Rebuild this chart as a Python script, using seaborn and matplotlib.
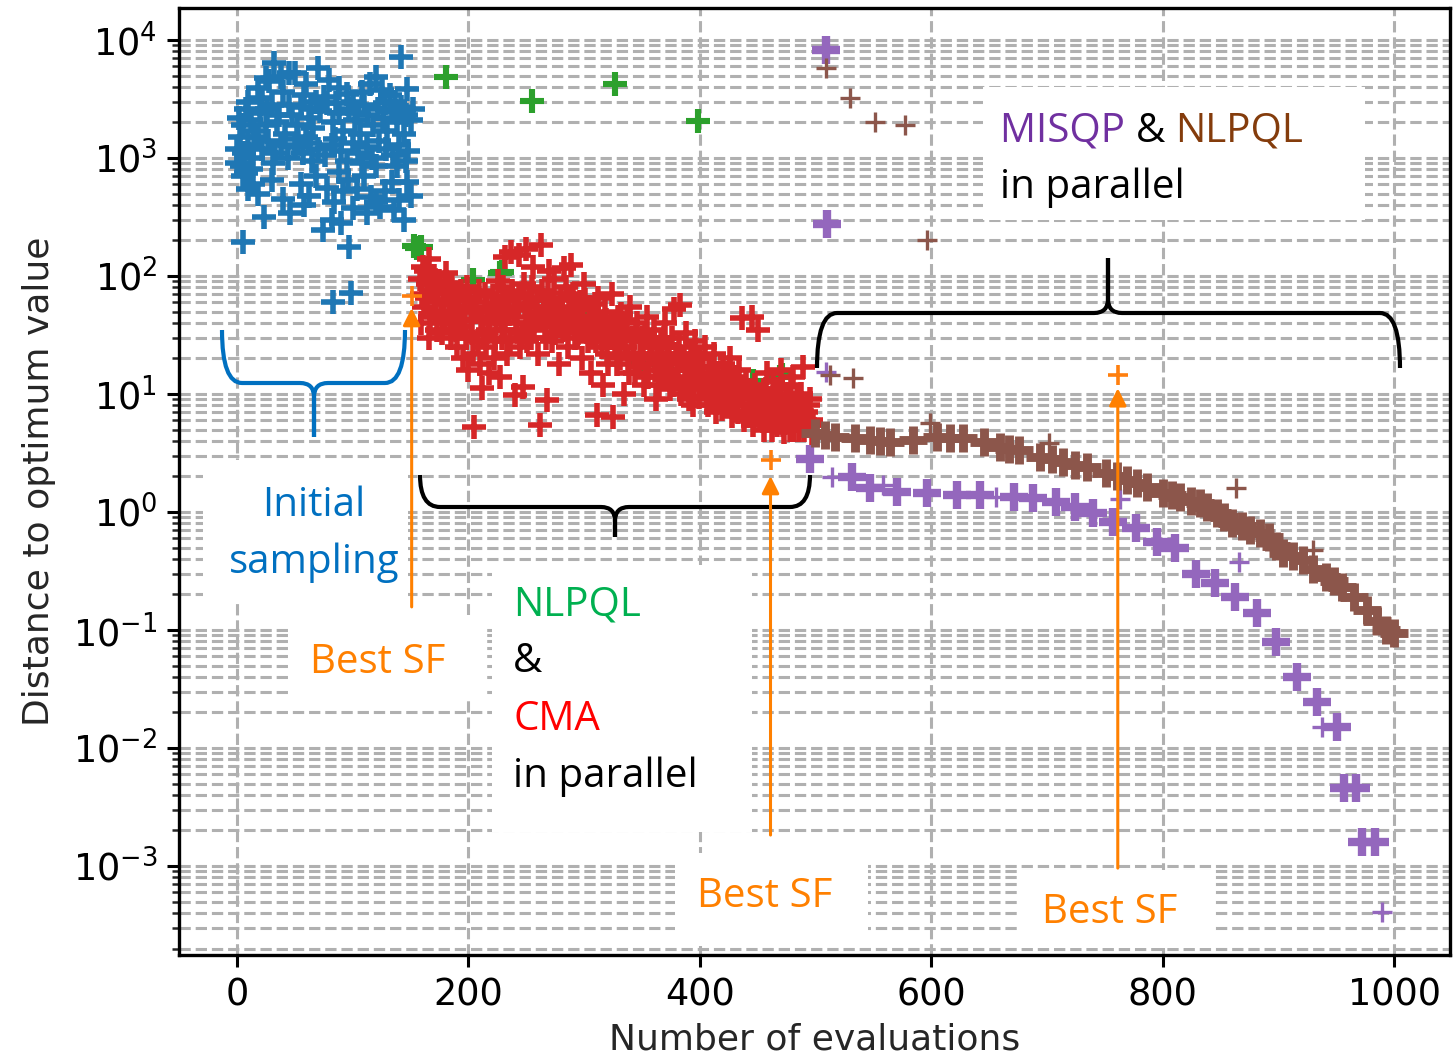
import numpy as np
import pandas as pd
import matplotlib
matplotlib.use("Agg")
import matplotlib.pyplot as plt
import matplotlib.transforms as mtransforms
from matplotlib.patches import Rectangle, PathPatch
from matplotlib.path import Path
from matplotlib.ticker import LogLocator, NullFormatter
import seaborn as sns

sns.set_style("ticks")
plt.rcParams['font.family'] = ['DejaVu Sans']

# ---------------- data (evaluation number, distance to optimum) ----------------
initial_sampling = [
    (32,6400),(45,5200),(50,5300),(70,5800),(25,4800),(28,4500),(38,4900),(18,3900),(60,4200),(80,4600),
    (88,3900),(95,3500),(108,3600),(115,4200),(125,3800),(132,3400),(142,7200),(147,3850),(120,4900),(58,3400),
    (40,3600),(10,3000),(75,3300),(100,3000),(137,3000),(22,3200),(2,2200),(5,1900),(8,2600),(12,2100),
    (15,1700),(20,2400),(25,1900),(30,2800),(35,2000),(42,1600),(48,2300),(52,1900),(55,2700),(62,2200),
    (66,1800),(72,2500),(78,2900),(83,2000),(88,2400),(92,1700),(97,2600),(102,2100),(106,1600),(110,2800),
    (113,2300),(118,1900),(122,2600),(126,2200),(130,1700),(134,2500),(138,2000),(142,2700),(146,2300),(150,2100),
    (152,2600),(3,1500),(18,1500),(45,2800),(68,3000),(86,2900),(128,2900),(144,1600),(60,1500),(0,1200),
    (6,1100),(10,1300),(14,1000),(22,1200),(27,1400),(33,1100),(38,1300),(44,1000),(50,1250),(57,1100),
    (63,1350),(70,1200),(76,1050),(82,1300),(90,1150),(95,950),(100,1350),(105,1100),(112,1250),(117,1000),
    (123,1400),(129,1200),(135,1050),(140,1300),(148,1150),(0,900),(4,850),(12,800),(31,900),(65,950),
    (108,900),(120,850),(138,850),(146,950),(53,1450),(85,1450),(5,700),(14,600),(18,500),(23,316),
    (30,650),(46,340),(55,600),(62,480),(68,700),(74,245),(78,560),(84,420),(88,760),(92,520),
    (96,650),(100,380),(104,550),(110,700),(116,470),(124,383),(128,520),(134,620),(140,440),(144,300),
    (150,480),(8,750),(40,450),(58,400),(82,300),(90,280),(112,340),(120,420),(136,360),(147,620),
    (10,550),(5,194),(97,176),(83,60),(99,72),(36,2300),(64,2600),(104,2400),(140,2450),(26,2600),
]

nlpql_first = [
    (153,178),(156,172),(159,176),(181,4860),(204,92),(227,106),(229,108),(255,3050),
    (296,41),(300,43),(327,4240),(351,18),(374,16),(398,2050),(446,13),(469,14),(471,14.5),
]

cma = [
    (158,95),(160,70),(162,55),(163,110),(165,85),(167,45),(168,75),(170,100),(172,60),(173,35),
    (175,90),(176,50),(178,72),(180,40),(181,105),(183,62),(185,30),(186,82),(188,48),(190,25),
    (191,68),(193,38),(195,20),(196,55),(198,30),(199,80),(200,16),(202,42),(204,22),(205,5.3),
    (206,60),(208,28),(210,18),(211,45),(212,11.2),(214,70),(215,25),(217,35),(218,15),(220,52),
    (222,20),(224,40),(226,90),(227,14),(229,30),(231,62),(233,22),(235,48),(237,160),(238,75),
    (240,9.8),(241,35),(243,55),(245,25),(247,11.4),(248,85),(250,40),(252,65),(254,30),(256,120),
    (258,50),(260,22),(262,5.5),(263,183),(264,75),(266,38),(268,8.9),(270,55),(272,28),(274,95),
    (276,45),(278,18),(280,65),(282,35),(284,80),(286,25),(288,50),(289,124),(290,70),(292,30),
    (294,42),(296,60),(298,20),(300,85),(302,35),(304,55),(306,15),(308,45),(310,28),(312,65),
    (314,38),(316,12),(318,50),(320,22),(322,30),(324,70),(326,40),(328,18),(330,25),(332,48),
    (334,10),(336,35),(338,20),(340,55),(342,28),(344,15),(346,40),(348,22),(350,30),(352,12),
    (354,45),(356,18),(358,25),(360,35),(362,9),(364,20),(366,28),(368,14),(370,40),(372,22),
    (374,11),(376,30),(378,53),(380,16),(382,25),(384,10),(386,19),(388,33),(390,13),(392,22),
    (394,8),(396,28),(398,15),(400,20),(402,11),(404,25),(406,9),(408,17),(410,13),(412,22),
    (414,7),(416,15),(418,10),(420,18),(422,8),(424,12),(426,20),(428,6.5),(430,14),(432,9),
    (434,16),(436,11),(438,6),(440,13),(442,8),(444,10),(445,45),(446,5.5),(448,12),(450,35),
    (451,7),(453,9),(455,5),(457,11),(459,7.5),(461,6),(463,13),(465,8),(467,5.5),(469,10),
    (471,7),(473,4.8),(475,9),(477,6),(479,12),(481,5),(483,8),(485,6.5),(487,10),(489,17),
    (490,5),(492,7),(494,5.5),(495,9),(159,40),(161,120),(164,65),(166,30),(169,90),(171,50),
    (174,75),(177,33),(179,58),(182,88),(184,45),(187,65),(189,35),(192,52),(194,75),(197,42),
    (201,65),(203,33),(207,50),(209,75),(213,32),(216,55),(219,42),(221,68),(223,28),(225,58),
    (228,45),(230,80),(232,35),(234,65),(236,28),(239,52),(242,40),(244,70),(246,33),(249,58),
    (251,28),(253,45),(255,80),(257,35),(259,62),(261,42),(265,55),(267,30),(269,72),(271,40),
    (273,60),(275,33),(277,50),(279,38),(281,48),(283,117),(285,40),(287,62),(291,45),(293,55),
    (295,33),(297,45),(299,40),(301,62),(303,28),(305,40),(307,32),(309,58),(311,6.6),(313,40),
    (315,25),(317,32),(319,42),(321,18),(323,35),(325,6.4),(327,28),(329,45),(331,20),(333,32),
    (335,25),(337,42),(339,15),(341,30),(343,22),(345,35),(347,17),(349,28),(351,20),(353,32),
    (355,14),(357,22),(359,28),(361,16),(363,25),(365,12),(367,20),(369,30),(371,15),(373,25),
    (375,18),(377,12),(379,22),(381,14),(383,57),(385,20),(387,12),(389,16),(391,9),(393,18),
    (395,12),(397,20),(399,9.5),(401,14),(403,17),(405,12),(407,8),(409,15),(411,10),(413,14),
    (415,9),(417,12),(419,7.5),(421,11),(423,15),(425,9),(427,11),(429,8),(431,12),(433,7),
    (435,10),(436,44),(437,8),(439,11),(441,6.5),(443,9),(447,7),(449,9.5),(452,6),(454,8),
    (456,10),(458,6.5),(460,9),(462,5),(464,7),(466,11),(468,6),(470,8),(472,5.5),(474,7),
    (476,10),(478,5),(480,8),(482,6),(484,9),(486,5),(488,7),(491,6),(493,8),(496,6),
    (497,4.5),(498,5.5),(244,150),(250,170),(232,145),(270,110),(166,140),(480,14),(470,16),(458,15),
]

misqp_main = [
    (495,2.8),(531,1.98),(547,1.6),(570,1.48),(596,1.45),(622,1.39),(642,1.39),(671,1.34),
    (688,1.31),(708,1.22),(724,1.1),(740,0.98),(757,0.82),(777,0.73),(795,0.56),(810,0.5),
    (829,0.30),(845,0.25),(862,0.19),(881,0.14),(898,0.079),(916,0.04),(933,0.0245),(950,0.0151),
    (956,0.0046),(967,0.0046),(972,0.0016),(983,0.0016),(509,8200),(510,275),
]
misqp_side = [(514,1.98),(558,1.7),(656,1.34),(763,1.3),(866,0.38),(937,0.0151),(509,15.3),(989,0.00041)]

nlpql_main = [
    (499,4.67),(508,4.5),(517,4.3),(534,4.2),(547,4.07),(556,4.0),(564,3.92),(584,4.07),(605,4.3),
    (616,4.2),(627,4.2),(645,3.9),(659,3.55),(667,3.4),(676,3.35),(694,2.93),(704,2.8),(714,2.65),
    (724,2.5),(734,2.4),(751,2.14),(760,2.0),(769,1.87),(778,1.75),(786,1.63),(800,1.45),(808,1.4),
    (815,1.34),(824,1.25),(832,1.19),(838,1.1),(847,0.98),(853,0.9),(860,0.81),(868,0.76),(875,0.70),
    (884,0.66),(892,0.61),(898,0.52),(904,0.45),(912,0.42),(921,0.39),(930,0.33),(941,0.28),
    (948,0.26),(955,0.23),(965,0.19),(976,0.148),(985,0.12),(993,0.1),(1000,0.095),
]
nlpql_side = [(509,5800),(530,3230),(551,2000),(577,1900),(596,200),(512,14.5),(532,13.6),
              (599,5.7),(702,3.84),(863,1.6),(930,0.48)]

best_sf = [(151,68),(461,2.76),(761,14.5)]
arrow_start = [0.157, 0.00183, 0.00096]
arrow_tip = [53.6, 2.02, 11.2]

# ---------------- figure ----------------
W, H = 1456, 1061
fig = plt.figure(figsize=(W / 200, H / 200), dpi=200)
ax = fig.add_axes([179 / W, 1 - 955 / H, (1450 - 179) / W, (955 - 8) / H])
pix = mtransforms.Affine2D().scale(1 / W, -1 / H).translate(0, 1) + fig.transFigure

def plus(pts, color, s, lw, z):
    df = pd.DataFrame(pts, columns=["x", "y"])
    sns.scatterplot(data=df, x="x", y="y", color=color, marker="+", s=s,
                    linewidth=lw, ax=ax, zorder=z, legend=False)

plus(initial_sampling, "#1f77b4", 70, 2.0, 3)
plus(nlpql_first, "#2ca02c", 70, 2.2, 3)
plus(cma, "#d62728", 70, 2.0, 3)
plus(misqp_main, "#9467bd", 95, 3.0, 3)
plus(misqp_side, "#9467bd", 55, 1.2, 3)
plus(nlpql_main, "#8c564b", 95, 3.2, 3)
plus(nlpql_side, "#8c564b", 55, 1.2, 3)
plus(best_sf, "#ff7f0e", 55, 1.3, 4)

ax.set_yscale("log")
ax.set_xlim(-50, 1048)
ax.set_ylim(10 ** -3.754, 10 ** 4.271)
ax.set_xticks([0, 200, 400, 600, 800, 1000])
ax.yaxis.set_major_locator(LogLocator(base=10, numticks=20))
ax.yaxis.set_minor_locator(LogLocator(base=10, subs=np.arange(2, 10), numticks=20))
ax.yaxis.set_minor_formatter(NullFormatter())
ax.set_axisbelow(True)
ax.grid(True, which="major", axis="both", ls="--", color="#b0b0b0", lw=1.1)
ax.grid(True, which="minor", axis="y", ls="--", color="#b0b0b0", lw=1.1)
ax.tick_params(which="major", length=4.3, width=1.1, labelsize=13.2, colors="black")
ax.tick_params(which="minor", length=2.5, width=0.9)
for sp in ax.spines.values():
    sp.set_linewidth(1.2)
    sp.set_color("black")
ax.set_xlabel("Number of evaluations", fontsize=13, labelpad=3)
ax.set_ylabel("Distance to optimum value", fontsize=13, labelpad=6)

# arrows to the best-so-far points
ORANGE = "#ff8000"
for (bx, _), y0, y1 in zip(best_sf, arrow_start, arrow_tip):
    ax.annotate("", xy=(bx, y1), xytext=(bx, y0),
                arrowprops=dict(arrowstyle="-|>", color=ORANGE, lw=1.1,
                                mutation_scale=13, shrinkA=0, shrinkB=0),
                zorder=8)

# white annotation boxes (pixel coordinates)
boxes = [(203, 460, 408, 600), (291, 615, 483, 700), (492, 565, 752, 832),
         (675, 853, 868, 946), (1021, 870, 1213, 948), (983, 87, 1365, 220)]
for x0, y0, x1, y1 in boxes:
    ax.add_patch(Rectangle((x0, y0), x1 - x0, y1 - y0, transform=pix, facecolor="white",
                           edgecolor="none", zorder=5, clip_on=False))

# curly braces
def brace(x0, x1, y_end, y_bar, xm, y_tip, color):
    r = 14
    re = 20
    sg = 1 if y_tip > y_bar else -1
    verts = [(x0, y_end), (x0, y_bar), (x0 + re, y_bar),
             (xm - r, y_bar),
             (xm, y_bar), (xm, y_bar + sg * r),
             (xm, y_tip),
             (xm, y_bar + sg * r),
             (xm, y_bar), (xm + r, y_bar),
             (x1 - re, y_bar),
             (x1, y_bar), (x1, y_end)]
    codes = [Path.MOVETO, Path.CURVE3, Path.CURVE3, Path.LINETO, Path.CURVE3, Path.CURVE3,
             Path.LINETO, Path.LINETO, Path.CURVE3, Path.CURVE3, Path.LINETO, Path.CURVE3, Path.CURVE3]
    ax.add_patch(PathPatch(Path(verts, codes), transform=pix, facecolor="none", edgecolor=color,
                           lw=1.5, zorder=7, clip_on=False, capstyle="butt", joinstyle="miter"))

brace(222, 405, 330, 383, 314, 437, "#0070C0")
brace(420, 810, 475, 507, 615, 537, "black")
brace(817, 1400, 368, 313, 1108, 258, "black")

# annotation texts
TF = ["Open Sans", "DejaVu Sans"]
FS = 14.5
def label(x, y, s, color, ha="left"):
    return ax.text(x, y, s, transform=pix, color=color, ha=ha, va="baseline",
                   fontsize=FS, family=TF, zorder=9)

label(314, 516, "Initial", "#0070C0", "center")
label(314, 573, "sampling", "#0070C0", "center")
label(378, 673, "Best SF", ORANGE, "center")
label(513, 616, "NLPQL", "#00B050")
label(513, 672, "&", "black")
label(513, 730, "CMA", "#FF0000")
label(513, 787, "in parallel", "black")
label(765, 907, "Best SF", ORANGE, "center")
label(1110, 923, "Best SF", ORANGE, "center")
label(1000, 198, "in parallel", "black")

# multi-coloured first line of the MISQP/NLPQL box, pieces placed side by side
renderer = fig.canvas.get_renderer()
xpos = 1000
for piece, col in [("MISQP ", "#7030A0"), ("& ", "black"), ("NLPQL", "#843C0C")]:
    t = label(xpos, 142, piece, col)
    bb = t.get_window_extent(renderer=renderer)
    xpos += bb.width * (W / fig.bbox.width)

fig.savefig("out.png", dpi=200)
